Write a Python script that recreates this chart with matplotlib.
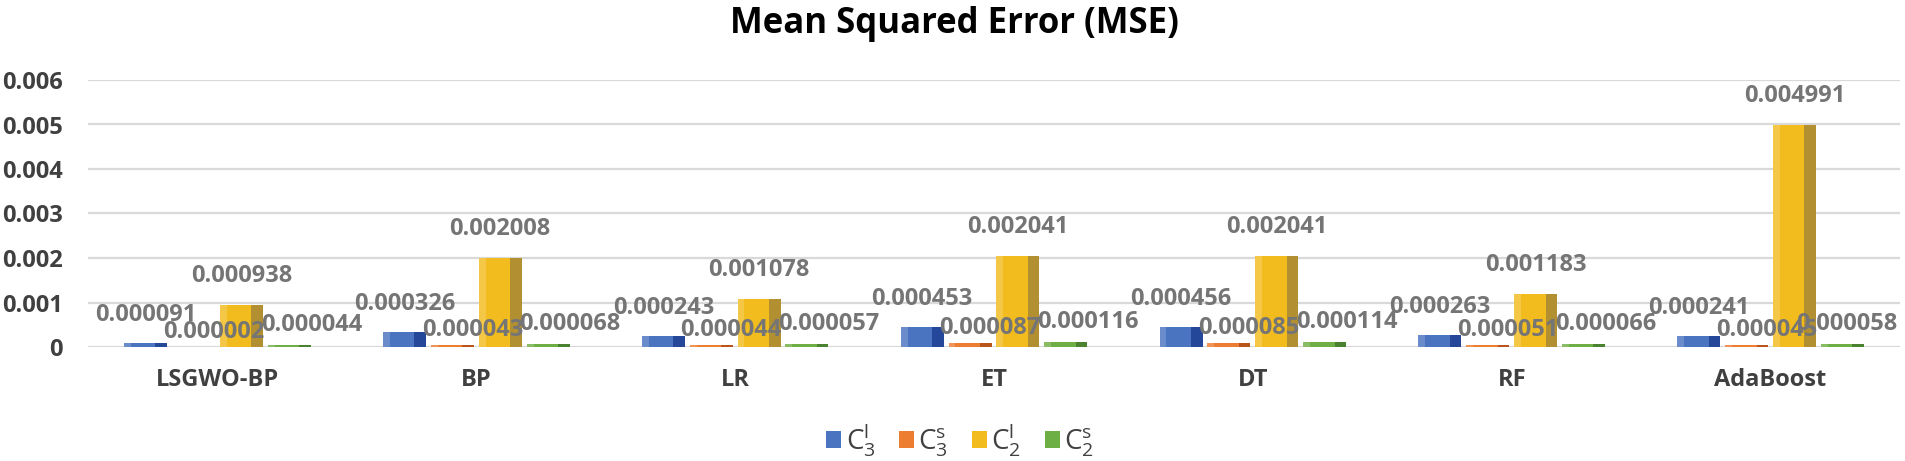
import matplotlib
matplotlib.use("Agg")
import matplotlib.pyplot as plt
import numpy as np
from matplotlib.patches import Patch

plt.rcParams['font.family'] = ['Open Sans', 'DejaVu Sans']

# data
models = ["LSGWO-BP", "BP", "LR", "ET", "DT", "RF", "AdaBoost"]
series_names = [r"$\mathregular{C_3^l}$", r"$\mathregular{C_3^s}$",
                r"$\mathregular{C_2^l}$", r"$\mathregular{C_2^s}$"]
c3_l = [0.000091, 0.000326, 0.000243, 0.000453, 0.000456, 0.000263, 0.000241]
c3_s = [0.000002, 0.000043, 0.000044, 0.000087, 0.000085, 0.000051, 0.000045]
c2_l = [0.000938, 0.002008, 0.001078, 0.002041, 0.002041, 0.001183, 0.004991]
c2_s = [0.000044, 0.000068, 0.000057, 0.000116, 0.000114, 0.000066, 0.000058]
y_ticks = [0, 0.001, 0.002, 0.003, 0.004, 0.005, 0.006]
y_tick_labels = ["0", "0.001", "0.002", "0.003", "0.004", "0.005", "0.006"]

# styling: front face / side face colours, label offset in pixels
front_colors = ["#4A73C0", "#ED7D31", "#F2BC1E", "#6EAF45"]
side_colors = ["#25479A", "#B9541A", "#B28F30", "#4A8230"]
label_offsets = [(0, 28), (20, 15), (0, 29), (22, 20)]

BAR_W = 0.166
PITCH = 0.185
SIDE_FRAC = 0.27

fig = plt.figure(figsize=(19.05, 4.61), dpi=100)
ax = fig.add_axes((88 / 1905, 114 / 461, 1812 / 1905, 267 / 461))

x = np.arange(len(models))
all_series = [c3_l, c3_s, c2_l, c2_s]
value_labels = []
for i, vals in enumerate(all_series):
    xs = x + (i - 1.5) * PITCH
    # front face
    ax.bar(xs, vals, width=BAR_W, color=front_colors[i], zorder=3)
    # light highlight on left edge
    ax.bar(xs - BAR_W * 0.42, vals, width=BAR_W * 0.16, color="white",
           alpha=0.18, zorder=4)
    # darker right side to fake the 3D look
    ax.bar(xs + BAR_W * (0.5 - SIDE_FRAC / 2), vals, width=BAR_W * SIDE_FRAC,
           color=side_colors[i], zorder=4)
    dx, dy = label_offsets[i]
    for xv, v in zip(xs, vals):
        t = ax.annotate(f"{v:.6f}", (xv, v), xytext=(dx, dy), textcoords="offset pixels",
                        ha="center", va="center", fontsize=17, fontweight="bold",
                        color="#757575", zorder=6, annotation_clip=False)
        value_labels.append(t)

ax.set_xlim(-0.5, len(models) - 0.5)
ax.set_ylim(0, 0.006)
ax.set_yticks(y_ticks)
ax.set_yticklabels(y_tick_labels)
ax.set_xticks(x)
ax.set_xticklabels(models)
# pads are in points (1 pt = 1.39 px at dpi 100)
ax.tick_params(axis="y", length=0, pad=18, labelsize=17, labelcolor="#404040")
ax.tick_params(axis="x", length=0, pad=15, labelsize=17, labelcolor="#404040")
for lab in ax.get_xticklabels() + ax.get_yticklabels():
    lab.set_fontweight("bold")

ax.grid(axis="y", color="#D9D9D9", linewidth=1.6, zorder=0)
ax.set_axisbelow(True)
for s in ax.spines.values():
    s.set_visible(False)

fig.text(0.501, 0.948, "Mean Squared Error (MSE)", ha="center", va="center",
         fontsize=25, fontweight="bold", color="black")

handles = [Patch(facecolor=c) for c in front_colors]
fig.legend(handles, series_names, loc="center", bbox_to_anchor=(0.504, 0.045),
           ncol=4, frameon=False, fontsize=20, handlelength=0.55, handleheight=0.55,
           handletextpad=0.15, columnspacing=0.85, labelcolor="#404040")

# pull any value label that runs past the right edge back inside
fig.canvas.draw()
renderer = fig.canvas.get_renderer()
fig_w = fig.bbox.width
for t in value_labels:
    bb = t.get_window_extent(renderer)
    if bb.x1 > fig_w - 8:
        ox, oy = t.xyann
        t.xyann = (ox - (bb.x1 - fig_w + 8), oy)

fig.savefig("out.png", dpi=100)
